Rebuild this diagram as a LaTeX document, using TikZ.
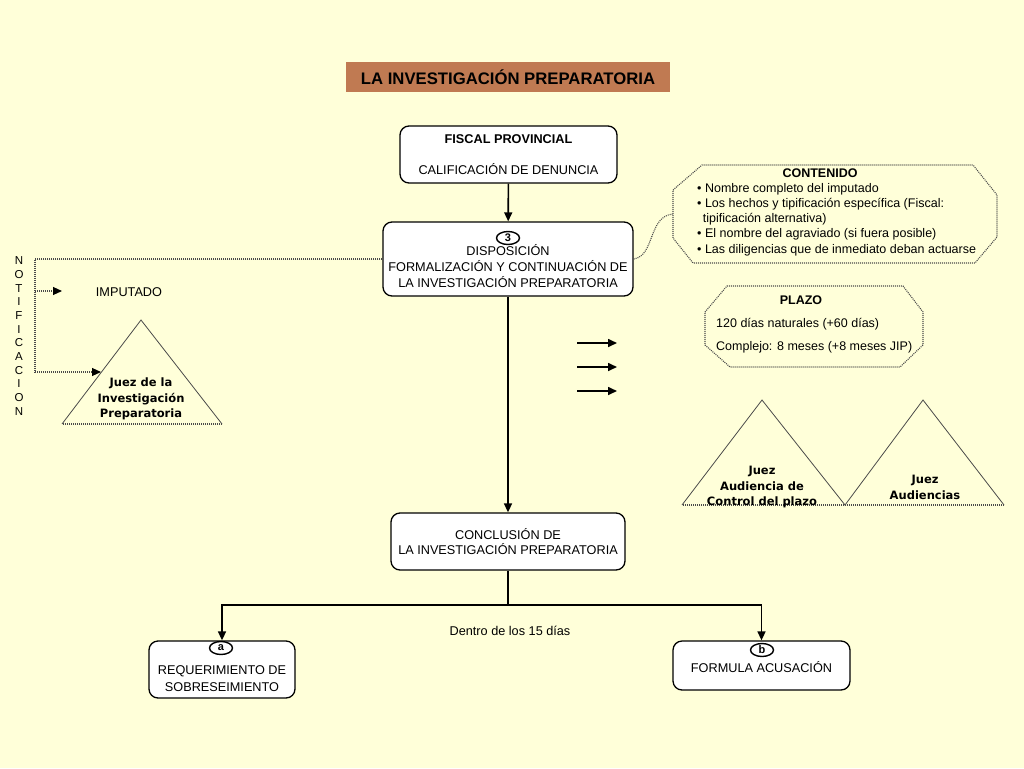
\documentclass[tikz,border=0pt]{standalone}
\usepackage{fontspec}
\setmainfont{Liberation Sans}
\newfontfamily\verdfont{DejaVu Sans}
\usetikzlibrary{arrows.meta,shapes.geometric}
\definecolor{fondo}{HTML}{FFFFD9}
\definecolor{titulo}{HTML}{C07A52}
\definecolor{punteado}{HTML}{4A4A4A}
\tikzset{
  every node/.style={font=\fontsize{12.7}{15.5}\selectfont},
  caja/.style={draw,rounded corners=9pt,fill=white,line width=1.3pt,inner sep=0pt,align=center},
  marca/.style={draw,ellipse,fill=white,line width=1.4pt,inner sep=0pt,minimum width=23pt,minimum height=13pt,font=\fontsize{11}{12}\selectfont\bfseries},
  flecha/.style={line width=1.6pt,-{Triangle[length=9pt,width=8pt]}},
  linea/.style={line width=1.6pt},
  puntos/.style={draw=punteado,line width=1.1pt,dash pattern=on 1pt off 1pt},
  flechap/.style={puntos,-{Triangle[black,length=9pt,width=8pt]}},
  juez/.style={font=\verdfont\bfseries\fontsize{11.5}{15.5}\selectfont,align=center,inner sep=0pt},
  lado/.style={draw=punteado,line width=0.8pt}
}
\begin{document}
\begin{tikzpicture}[x=1pt,y=-1pt]
	\fill[fondo] (0,0) rectangle (1024,768);
	\useasboundingbox (0,0) rectangle (1024,768);
	% titulo
	\node[fill=titulo,minimum width=324pt,minimum height=30pt,inner sep=0pt,font=\fontsize{16.7}{18}\selectfont\bfseries](titulo) at (508,77){LA INVESTIGACIÓN PREPARATORIA};
	% cajas principales
	\node[caja,minimum width=217pt,minimum height=57pt](fiscal) at (508.5,154.5){\textbf{FISCAL PROVINCIAL}\\[15.5pt]CALIFICACIÓN DE DENUNCIA};
	\node[caja,minimum width=250pt,minimum height=74pt](disp) at (508,259){};
	\node[align=center,inner sep=0pt,font=\fontsize{12.7}{16}\selectfont](disptxt) at (508,266){DISPOSICIÓN\\FORMALIZACIÓN Y CONTINUACIÓN DE\\LA INVESTIGACIÓN PREPARATORIA};
	\node[marca](m3) at (508,238){3};
	\node[caja,minimum width=234pt,minimum height=57pt](concl) at (508,541.5){CONCLUSIÓN DE\\LA INVESTIGACIÓN PREPARATORIA};
	\node[caja,minimum width=146pt,minimum height=57pt](reqa) at (222,669.5){};
	\node[align=center,inner sep=0pt,font=\fontsize{12.7}{17}\selectfont](reqatxt) at (222,678.5){REQUERIMIENTO DE\\SOBRESEIMIENTO};
	\node[marca](ma) at (221,648){a};
	\node[caja,minimum width=177pt,minimum height=49pt](acus) at (761.5,665.5){\\[-2pt]FORMULA ACUSACIÓN};
	\node[marca](mb) at (762,650){b};
	\node[inner sep=0pt](dentro) at (510,631){Dentro de los 15 días};
	% conectores
	\draw[flecha] (fiscal) -- (disp);
	\draw[flecha] (disp) -- (concl);
	\coordinate (rama) at (508,605);
	\draw[linea] (concl) -- (rama);
	\draw[flecha] (rama) -| (reqa.north);
	\draw[flecha] (rama) -| (acus.north);
	% contenido
	\draw[puntos,fill=fondo] (673,190)--(702,165)--(973,165)--(997,195)--(997,237)--(975,263)--(693,263)--(673,238)--cycle;
	\coordinate (cont-w) at (673,214);
	\node[inner sep=0pt,font=\fontsize{12.5}{15}\selectfont\bfseries](conttit) at (820,173){CONTENIDO};
	\node[anchor=north west,align=left,inner sep=0pt,font=\fontsize{12.5}{15.2}\selectfont](contlista) at (697,183){• Nombre completo del imputado\\• Los hechos y tipificación específica (Fiscal:\\\hspace*{0.45em}tipificación alternativa)\\• El nombre del agraviado (si fuera posible)\\• Las diligencias que de inmediato deban actuarse};
	\draw[puntos] (disp.east) .. controls (655,256) and (648,216) .. (cont-w);
	% plazo
	\draw[puntos,fill=fondo] (705,312)--(727,286)--(903,286)--(923,312)--(923,345)--(900,367)--(730,367)--(705,345)--cycle;
	\node[inner sep=0pt,font=\fontsize{12.5}{15}\selectfont\bfseries](plazotit) at (801,300){PLAZO};
	\node[anchor=west,inner sep=0pt,font=\fontsize{12.5}{15}\selectfont](plazo1) at (716,324){120 días naturales (+60 días)};
	\node[anchor=west,inner sep=0pt,font=\fontsize{12.5}{15}\selectfont](plazo2) at (716,347){Complejo: 8 meses (+8 meses JIP)};
	% flechas sueltas
	\foreach \y in {343,367,391}{
		\coordinate (fs\y) at (577,\y);
		\coordinate (fe\y) at (617,\y);
		\draw[flecha] (fs\y) -- (fe\y);
	}
	% jueces
	\draw[lado] (62,424) -- (141,320) -- (222,424);
	\draw[puntos] (222,424) -- (62,424);
	\node[juez](juezip) at (141,399){Juez de la\\Investigación\\Preparatoria};
	\draw[lado] (682,505) -- (762,400) -- (845,505) -- (923,400) -- (1004,505);
	\draw[puntos] (1004,505) -- (682,505);
	\node[juez](juezcp) at (762,487){Juez\\Audiencia de\\Control del plazo};
	\node[juez](juezau) at (925,487.5){Juez\\Audiencias};
	% notificacion
	\foreach \letra [count=\i] in {N,O,T,I,F,I,C,A,C,I,O,N}
		\node[inner sep=0pt,font=\fontsize{11.5}{13}\selectfont](n\i) at (19,247.4+13.64*\i){\letra};
	\coordinate (esq1) at (35,259);
	\coordinate (esq2) at (35,372);
	\coordinate (esq3) at (35,291);
	\coordinate (imp-w) at (62,291);
	\coordinate (juezip-w) at (101,372);
	\draw[puntos] (disp.west) -- (esq1) -- (esq2);
	\draw[flechap] (esq2) -- (juezip-w);
	\draw[flechap] (esq3) -- (imp-w);
	\node[inner sep=0pt](imputado) at (129,292){IMPUTADO};
\end{tikzpicture}
\end{document}
